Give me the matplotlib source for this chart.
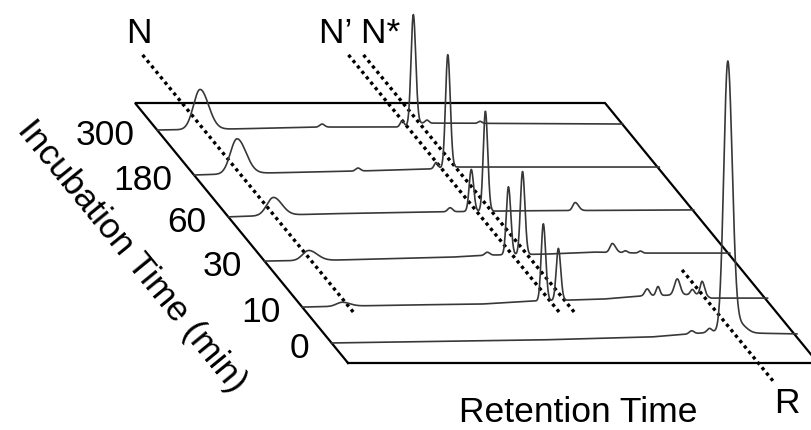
import numpy as np
import matplotlib
matplotlib.use("Agg")
import matplotlib.pyplot as plt
from matplotlib.transforms import Affine2D

plt.rcParams['font.family'] = ['Liberation Sans', 'DejaVu Sans']

# ---------------- data ----------------
incubation_times = ['0', '10', '30', '60', '180', '300']
# depth position of each chromatogram along the incubation-time axis (0 = front, 1 = back)
trace_depth = [0.077, 0.215, 0.392, 0.562, 0.723, 0.896]

# baseline drift knots (retention 0-1, signal a.u.)
base_u_0 = [0.0, 0.44, 0.68, 0.76, 0.815, 0.88, 1.0]
base_s_0 = [0.0, 0.03, 0.06, 0.09, 0.11, 0.10, 0.09]
base_u_10 = [0.0, 0.20, 0.38, 0.49, 0.64, 0.72, 0.85, 0.87, 1.0]
base_s_10 = [0.0, 0.02, 0.03, 0.06, 0.08, 0.11, 0.13, 0.09, 0.09]
base_u_30 = [0.0, 0.15, 0.40, 0.48, 0.60, 0.70, 0.80, 1.0]
base_s_30 = [0.0, 0.01, 0.04, 0.06, 0.07, 0.09, 0.08, 0.08]
base_u_60 = [0.0, 0.20, 0.45, 0.60, 1.0]
base_s_60 = [0.0, 0.03, 0.05, 0.06, 0.07]
base_u_180 = [0.0, 0.15, 0.35, 0.50, 0.56, 1.0]
base_s_180 = [0.0, 0.02, 0.04, 0.06, 0.08, 0.08]
base_u_300 = [0.0, 0.15, 0.35, 0.52, 0.56, 1.0]
base_s_300 = [0.0, 0.01, 0.03, 0.03, 0.07, 0.06]

# peaks: retention position (0-1), height (a.u.), left / right width (0-1 units)
rt_0 = [0.766, 0.804, 0.843, 0.868]
h_0 = [0.03, 0.04, 2.71, 0.09]
wl_0 = [0.005, 0.005, 0.0085, 0.010]
wr_0 = [0.005, 0.005, 0.0095, 0.014]

rt_10 = [0.085, 0.513, 0.545, 0.734, 0.757, 0.798, 0.830, 0.851]
h_10 = [0.04, 0.77, 0.52, 0.07, 0.09, 0.16, 0.05, 0.13]
wl_10 = [0.012, 0.0045, 0.0045, 0.005, 0.004, 0.006, 0.004, 0.004]
wr_10 = [0.016, 0.0050, 0.0050, 0.005, 0.004, 0.006, 0.004, 0.005]

rt_30 = [0.094, 0.474, 0.519, 0.549, 0.740, 0.768, 0.800]
h_30 = [0.10, 0.03, 0.68, 0.83, 0.09, 0.02, 0.02]
wl_30 = [0.013, 0.005, 0.0045, 0.0045, 0.005, 0.004, 0.004]
wr_30 = [0.018, 0.005, 0.0050, 0.0050, 0.007, 0.004, 0.004]

rt_60 = [0.096, 0.472, 0.517, 0.547, 0.738]
h_60 = [0.18, 0.04, 0.42, 1.00, 0.08]
wl_60 = [0.014, 0.005, 0.0045, 0.0045, 0.005]
wr_60 = [0.018, 0.005, 0.0050, 0.0050, 0.007]

rt_180 = [0.0915, 0.349, 0.515, 0.540]
h_180 = [0.35, 0.03, 0.06, 1.13]
wl_180 = [0.014, 0.005, 0.004, 0.0048]
wr_180 = [0.019, 0.005, 0.004, 0.0052]

rt_300 = [0.0913, 0.351, 0.521, 0.545, 0.574, 0.687]
h_300 = [0.40, 0.03, 0.06, 1.10, 0.03, 0.02]
wl_300 = [0.014, 0.005, 0.004, 0.0048, 0.004, 0.004]
wr_300 = [0.018, 0.005, 0.004, 0.0052, 0.004, 0.004]

# marker lines: retention position, depth start, depth end
marker_names = ['N', "N\u2019", 'N*', 'R']
marker_u = [0.100, 0.538, 0.570, 0.873]
marker_v0 = [1.185, 1.185, 1.185, 0.358]
marker_v1 = [0.196, 0.196, 0.196, -0.073]

traces = [
    (base_u_0, base_s_0, rt_0, h_0, wl_0, wr_0),
    (base_u_10, base_s_10, rt_10, h_10, wl_10, wr_10),
    (base_u_30, base_s_30, rt_30, h_30, wl_30, wr_30),
    (base_u_60, base_s_60, rt_60, h_60, wl_60, wr_60),
    (base_u_180, base_s_180, rt_180, h_180, wl_180, wr_180),
    (base_u_300, base_s_300, rt_300, h_300, wl_300, wr_300),
]

# ---------------- figure ----------------
W, H = 812, 430
fig = plt.figure(figsize=(W / 100, H / 100), dpi=100)
ax = fig.add_axes([0, 0, 1, 1])
ax.set_xlim(0, W)
ax.set_ylim(H, 0)
ax.axis('off')

# oblique projection of the (retention, incubation) plane
plane_w, shear, depth, x0, y0 = 470, 213, 260, 348, 363
T = Affine2D(np.array([[plane_w, -shear, x0], [0, -depth, y0], [0, 0, 1]])) + ax.transData

# frame
ax.plot([0, 1, 1, 0, 0], [0, 0, 1, 1, 0], transform=T, color='black', lw=1.6,
        solid_joinstyle='miter', zorder=1)

# marker dotted lines
for u, a, b in zip(marker_u, marker_v0, marker_v1):
    ax.plot([u, u], [a, b], transform=T, color='black', lw=2.4,
            linestyle=(0, (1.0, 1.1)), dash_capstyle='butt', zorder=2)

# chromatograms
sig_scale = 100  # pixels per a.u.
uu = np.linspace(0, 0.99, 3000)
for v, (bu, bs, rt, h, wl, wr) in zip(trace_depth, traces):
    s = np.interp(uu, bu, bs)
    for c, hh, l, r in zip(rt, h, wl, wr):
        w = np.where(uu < c, l, r)
        s = s + hh * np.exp(-0.5 * ((uu - c) / w) ** 2)
    x_left = x0 - shear * v
    y_base = y0 - depth * v
    Tt = Affine2D(np.array([[plane_w, 0, x_left], [0, -sig_scale, y_base], [0, 0, 1]])) + ax.transData
    ax.plot(uu, s, transform=Tt, color='#383838', lw=1.2, zorder=3)

FS = 25.5

# incubation time labels
for lab, v in zip(incubation_times, trace_depth):
    ax.annotate(lab, xy=(0, v), xycoords=T, xytext=(-22, -15), textcoords='offset pixels',
                ha='right', va='baseline', fontsize=FS)

# axis titles
ang = -np.degrees(np.arctan2(depth, shear))
ax.text(132, 256, 'Incubation Time (min)', rotation=ang, rotation_mode='anchor',
        ha='center', va='center', fontsize=FS)
ax.text(578, 422, 'Retention Time', ha='center', va='baseline', fontsize=FS)

# marker labels
ax.text(138.5, 43, 'N', ha='center', va='baseline', fontsize=FS)
ax.text(359.5, 43, "N\u2019 N*", ha='center', va='baseline', fontsize=FS)
ax.text(786.5, 413, 'R', ha='center', va='baseline', fontsize=FS)

fig.savefig('out.png', dpi=100)
